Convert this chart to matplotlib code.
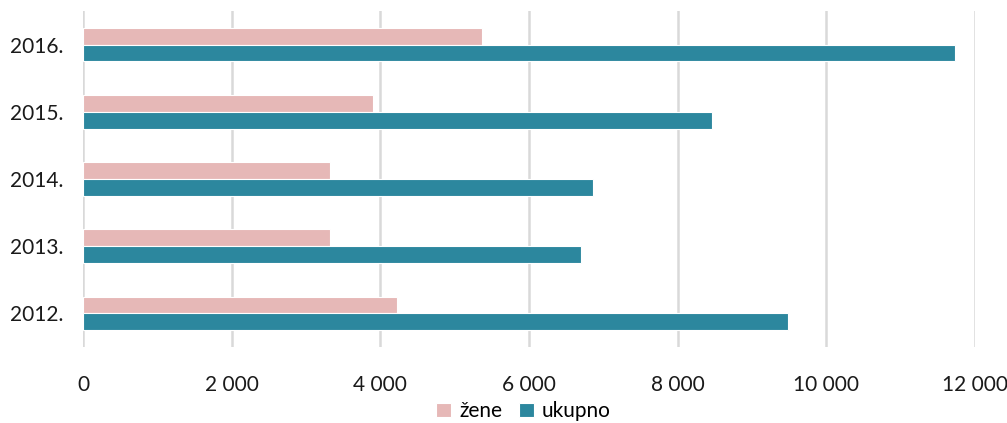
import numpy as np
import matplotlib.pyplot as plt

plt.rcParams['font.family'] = ['Lato', 'DejaVu Sans']

# Data
years = ['2012.', '2013.', '2014.', '2015.', '2016.']
zene = [4220, 3325, 3320, 3900, 5370]
ukupno = [9490, 6700, 6860, 8460, 11735]

pink = '#e6b8b7'
teal = '#2c879e'

fig = plt.figure(figsize=(10.07, 4.23), dpi=100)
ax = fig.add_axes([0.0824, 0.1797, 0.8858, 0.7943])

y = np.arange(len(years))
h = 0.25
ax.barh(y + h / 2, zene, height=h, color=pink, edgecolor='white', linewidth=0.8, label='žene', zorder=3)
ax.barh(y - h / 2, ukupno, height=h, color=teal, edgecolor='white', linewidth=0.8, label='ukupno', zorder=3)

ax.set_xlim(0, 12000)
ax.set_ylim(-0.5, 4.5)
ax.set_yticks(y)
ax.set_yticklabels(years)
xt = np.arange(0, 12001, 2000)
ax.set_xticks(xt)
ax.set_xticklabels([f'{v:,}'.replace(',', ' ') for v in xt])
ax.tick_params(length=0, labelsize=15, colors='#1a1a1a')
ax.tick_params(axis='x', pad=20)
ax.tick_params(axis='y', pad=14)
ax.grid(axis='x', color='#d9d9d9', linewidth=1.8, zorder=0)
for s in ax.spines.values():
    s.set_visible(False)

fig.legend(loc='center', bbox_to_anchor=(0.52, 0.028), ncol=2, frameon=False,
           fontsize=15, handlelength=0.7, handleheight=0.7, handletextpad=0.4, columnspacing=0.8,
           borderaxespad=0, borderpad=0)

fig.savefig('out.png', dpi=100)
